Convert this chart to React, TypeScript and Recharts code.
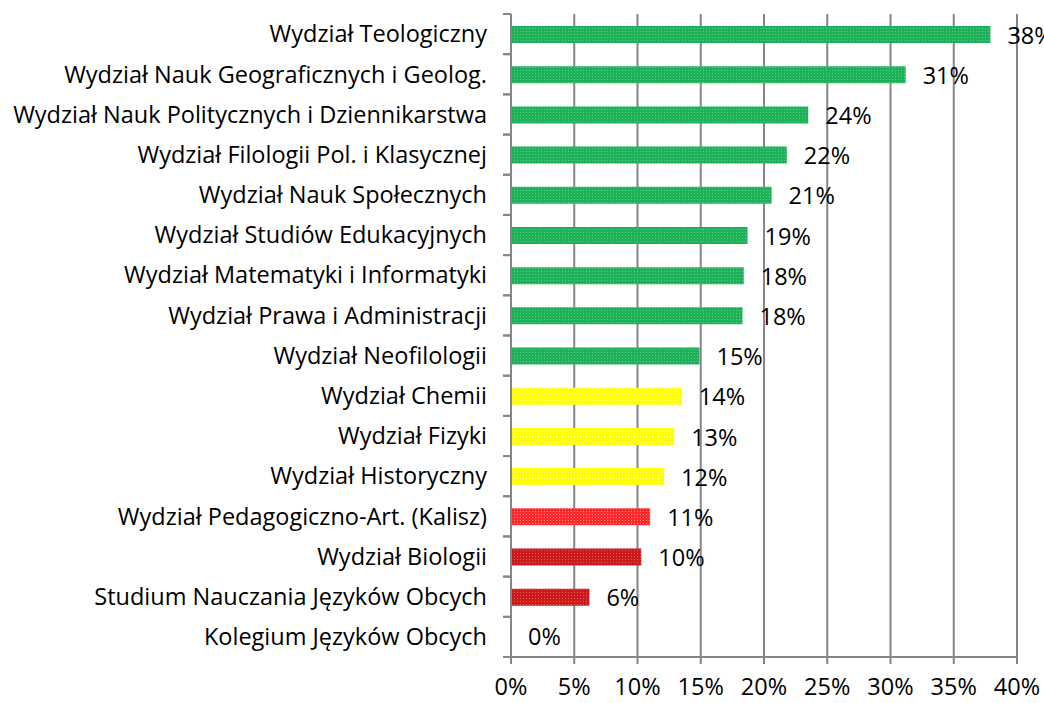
import { Bar, BarChart, CartesianGrid, Cell, LabelList, ReferenceDot, XAxis, YAxis } from 'recharts'

const faculties = [
  'Wydział Teologiczny',
  'Wydział Nauk Geograficznych i Geolog.',
  'Wydział Nauk Politycznych i Dziennikarstwa',
  'Wydział Filologii Pol. i Klasycznej',
  'Wydział Nauk Społecznych',
  'Wydział Studiów Edukacyjnych',
  'Wydział Matematyki i Informatyki',
  'Wydział Prawa i Administracji',
  'Wydział Neofilologii',
  'Wydział Chemii',
  'Wydział Fizyki',
  'Wydział Historyczny',
  'Wydział Pedagogiczno-Art. (Kalisz)',
  'Wydział Biologii',
  'Studium Nauczania Języków Obcych',
  'Kolegium Języków Obcych',
]

const shares = [37.9, 31.2, 23.5, 21.8, 20.6, 18.7, 18.4, 18.3, 14.9, 13.5, 12.9, 12.1, 11.0, 10.3, 6.2, 0]

// which fill each bar uses
const groups = ['green', 'green', 'green', 'green', 'green', 'green', 'green', 'green', 'green', 'yellow', 'yellow', 'yellow', 'red', 'darkred', 'darkred', 'darkred']

const xTicks = [0, 5, 10, 15, 20, 25, 30, 35, 40]

const data = faculties.map((name, i) => ({ name, value: shares[i], group: groups[i] }))

const patterns: Record<string, [string, string]> = {
  green: ['#1fb05a', '#5ccf8a'],
  yellow: ['#ffff00', '#ffff99'],
  red: ['#ff2a2a', '#ff8a8a'],
  darkred: ['#cc1a1a', '#e06060'],
}

const font = "'Open Sans', sans-serif"
const fontSize = 23.5
const axisColor = '#868686'

const pct = (v: any) => `${Math.round(Number(v))}%`

function CategoryTick(props: any) {
  const { x, y, payload } = props
  const half = payload?.offset || 20
  return (
    <g>
      <text x={x} y={y} dy="0.35em" textAnchor="end" fontSize={fontSize} fontFamily={font} fill="#000">
        {payload.value}
      </text>
      <line x1={x + 16} x2={x + 24} y1={y - half} y2={y - half} stroke={axisColor} strokeWidth={2} />
      <line x1={x + 16} x2={x + 24} y1={y + half} y2={y + half} stroke={axisColor} strokeWidth={2} />
    </g>
  )
}

function ValueLabel(props: any) {
  const { x, y, width, height, value } = props
  return (
    <text
      x={Number(x) + Number(width || 0) + 17}
      y={Number(y) + Number(height) / 2 + 1}
      dy="0.35em"
      fontSize={fontSize}
      fontFamily={font}
      fill="#000"
    >
      {pct(value)}
    </text>
  )
}

export default function App() {
  return (
    <div style={{ position: 'absolute', left: 0, top: 0, width: 1044, height: 703, background: '#fff' }}>
      <BarChart
        width={1044}
        height={703}
        data={data}
        layout="vertical"
        margin={{ top: 14, right: 27, left: 0, bottom: 0 }}
        barSize={17}
      >
        <defs>
          {Object.entries(patterns).map(([key, [base, dot]]) => (
            <pattern key={key} id={`dots-${key}`} width={3} height={3} patternUnits="userSpaceOnUse">
              <rect width={3} height={3} fill={base} />
              <rect x={1} y={1} width={1} height={1} fill={dot} />
            </pattern>
          ))}
        </defs>
        <CartesianGrid horizontal={false} stroke={axisColor} strokeWidth={2} />
        <XAxis
          type="number"
          domain={[0, 40]}
          ticks={xTicks}
          tickFormatter={(v) => `${v}%`}
          height={46}
          stroke={axisColor}
          strokeWidth={2}
          tickSize={7}
          tickMargin={14}
          tick={{ fontSize, fontFamily: font, fill: '#000' }}
          interval={0}
        />
        <YAxis
          type="category"
          dataKey="name"
          width={511}
          stroke={axisColor}
          strokeWidth={2}
          tickLine={false}
          tickSize={8}
          tickMargin={16}
          tick={<CategoryTick />}
          interval={0}
        />
        <Bar dataKey="value" isAnimationActive={false}>
          {data.map((d) => (
            <Cell key={d.name} fill={`url(#dots-${d.group})`} />
          ))}
          <LabelList dataKey="value" content={<ValueLabel />} />
        </Bar>
        {/* zero-length bars get no label from the bar itself */}
        {data
          .filter((d) => d.value === 0)
          .map((d) => (
            <ReferenceDot
              key={d.name}
              x={d.value}
              y={d.name}
              r={0}
              stroke="none"
              fill="none"
              ifOverflow="visible"
              label={{ value: pct(d.value), position: 'right', offset: 17, fontSize, fontFamily: font, fill: '#000' }}
            />
          ))}
      </BarChart>
    </div>
  )
}
